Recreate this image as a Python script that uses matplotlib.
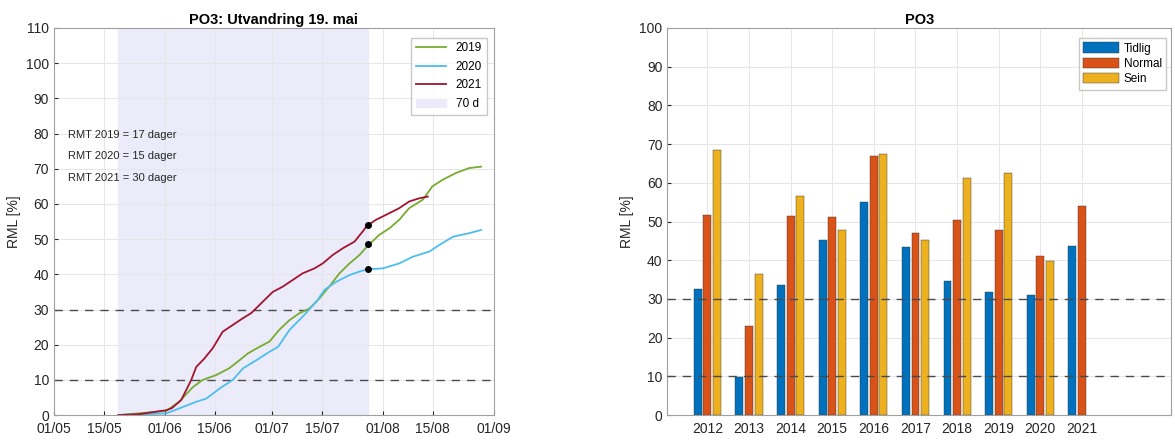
import matplotlib
matplotlib.use("Agg")
import matplotlib.pyplot as plt
import matplotlib.dates as mdates
import numpy as np

plt.rcParams.update({
    'font.family': ['Liberation Sans', 'DejaVu Sans'],
    'font.size': 10,
    'axes.edgecolor': '#a0a0a0',
    'axes.linewidth': 0.8,
    'xtick.color': '#262626',
    'ytick.color': '#262626',
    'xtick.direction': 'in',
    'ytick.direction': 'in',
})

# --- left panel data (days after 1 May) ---
start = np.datetime64('2021-05-01')
d2019 = [18, 31.4, 35, 38.9, 41.6, 45.4, 49, 51.9, 54.2, 57.5, 60.3, 63, 65.9, 68.6, 71.5,
         74.3, 77, 79.9, 82.7, 85.5, 87.6, 91, 93.9, 96.6, 99.4, 103.2, 105.9, 108.8, 112.5,
         116.2, 119.5]
v2019 = [0, 1.2, 3.8, 8, 10, 11.4, 13.3, 15.6, 17.5, 19.4, 20.9, 24.2, 27, 28.9, 30.3,
         33.2, 36.5, 40.3, 43.1, 45.5, 47.9, 51.2, 53.1, 55.5, 58.8, 61.2, 65, 66.9, 68.8,
         70.2, 70.6]
d2020 = [18, 31.4, 35, 39.8, 42.6, 46.4, 50, 52.9, 56.6, 60.3, 62.7, 65.9, 69.6, 73.4,
         75.7, 79, 82.7, 85.5, 87.6, 92, 96.6, 100.4, 105.1, 107.9, 111.7, 116.2, 119.5]
v2020 = [0, 0.5, 1.9, 3.8, 4.7, 7.6, 10, 13.3, 15.6, 18, 19.4, 24.2, 28, 32.2,
         35.6, 37.9, 39.8, 40.8, 41.4, 41.7, 43.1, 45, 46.5, 48.4, 50.7, 51.7, 52.6]
d2021 = [18, 24, 31.4, 33, 35.6, 38.4, 39.8, 42, 44.4, 47.2, 50, 52.8, 55.2, 58.4, 61.2,
         64, 66.8, 69.6, 72.9, 75.2, 78, 80.8, 84.1, 86.4, 87.6, 90.1, 92.9, 96.6, 99.4,
         102.2, 104.6]
v2021 = [0, 0.3, 1.4, 2, 4.3, 10, 13.7, 16, 19, 23.7, 25.6, 27.5, 29, 32.2, 35,
         36.5, 38.4, 40.3, 41.7, 43.1, 45.5, 47.4, 49.3, 52.2, 53.8, 55.5, 56.9, 58.8, 60.7,
         61.6, 62.1]
window_start, window_days = 18, 70
dot_values = [48.5, 41.5, 54]
rmt_text = ['RMT 2019 = 17 dager', 'RMT 2020 = 15 dager', 'RMT 2021 = 30 dager']

# --- right panel data ---
years = [2012, 2013, 2014, 2015, 2016, 2017, 2018, 2019, 2020, 2021]
tidlig = [32.5, 9.9, 33.6, 45.3, 55, 43.5, 34.7, 31.8, 31, 43.8]
normal = [51.7, 23, 51.5, 51.3, 67, 47, 50.4, 47.8, 41.2, 53.9]
sein = [68.4, 36.5, 56.7, 47.8, 67.5, 45.3, 61.2, 62.5, 39.9, np.nan]


def to_dates(days):
    return start + (np.array(days) * 24 * 3600).astype('timedelta64[s]')


fig = plt.figure(figsize=(11.75, 4.44), dpi=100)
ax1 = fig.add_axes([0.046, 0.065, 0.374, 0.872])
ax2 = fig.add_axes([0.568, 0.065, 0.429, 0.872])

dash = (0, (6, 5))

# left panel
ws = start + np.timedelta64(window_start, 'D')
we = ws + np.timedelta64(window_days, 'D')
ax1.axvspan(ws, we, color='#ebebfa', zorder=0, label='70 d')
ax1.axhline(10, color='#4a4a4a', ls=dash, lw=1, zorder=1)
ax1.axhline(30, color='#4a4a4a', ls=dash, lw=1, zorder=1)
l1, = ax1.plot(to_dates(d2019), v2019, color='#77ac30', lw=1.3, label='2019')
l2, = ax1.plot(to_dates(d2020), v2020, color='#4dbeee', lw=1.3, label='2020')
l3, = ax1.plot(to_dates(d2021), v2021, color='#a2142f', lw=1.3, label='2021')
ax1.plot([we] * 3, dot_values, 'o', color='black', ms=4, zorder=5)
for i, t in enumerate(rmt_text):
    ax1.text(start + np.timedelta64(4, 'D'), 79.5 - 6 * i, t, fontsize=8, va='center',
             color='#262626')

ax1.set_xlim(np.datetime64('2021-05-01'), np.datetime64('2021-09-01'))
ax1.set_ylim(0, 110)
ax1.set_yticks(np.arange(0, 111, 10))
ax1.xaxis.set_major_locator(mdates.DayLocator(bymonthday=[1, 15]))
ax1.xaxis.set_major_formatter(mdates.DateFormatter('%d/%m'))
ax1.grid(True, color='#e6e6e6', lw=0.7)
ax1.set_axisbelow(True)
ax1.set_ylabel('RML [%]', color='#262626')
ax1.set_title('PO3: Utvandring 19. mai', fontweight='bold', fontsize=10.5, pad=3)
ax1.legend(handles=[l1, l2, l3, ax1.patches[0]], loc='upper right',
           bbox_to_anchor=(0.985, 0.975), borderaxespad=0, fontsize=8.5,
           frameon=True, fancybox=False, edgecolor='#bbbbbb', handlelength=2.6,
           labelspacing=0.55)
ax1.tick_params(length=3)
ax1.tick_params(axis='x', pad=5)

# right panel
x = np.array(years)
off, w = 0.23, 0.19
ax2.axhline(10, color='#4a4a4a', ls=dash, lw=1, zorder=3)
ax2.axhline(30, color='#4a4a4a', ls=dash, lw=1, zorder=3)
ax2.bar(x - off, tidlig, w, color='#0072bd', edgecolor='#333333', lw=0.3, label='Tidlig', zorder=2)
ax2.bar(x, normal, w, color='#d95319', edgecolor='#333333', lw=0.3, label='Normal', zorder=2)
ax2.bar(x + off, sein, w, color='#edb120', edgecolor='#333333', lw=0.3, label='Sein', zorder=2)
ax2.set_xlim(2011.04, 2023.15)
ax2.set_ylim(0, 100)
ax2.set_xticks(years)
ax2.set_xticklabels([str(y) for y in years])
ax2.set_yticks(np.arange(0, 101, 10))
ax2.grid(True, color='#e6e6e6', lw=0.7)
ax2.set_axisbelow(True)
ax2.set_ylabel('RML [%]', color='#262626')
ax2.set_title('PO3', fontweight='bold', fontsize=10.5, pad=3)
ax2.legend(loc='upper right', bbox_to_anchor=(0.99, 0.975), borderaxespad=0, fontsize=8.5,
           frameon=True, fancybox=False, edgecolor='#bbbbbb', handlelength=3.0,
           handleheight=1.0, labelspacing=0.25, handletextpad=0.4, borderpad=0.4)
ax2.tick_params(length=3)
ax2.tick_params(axis='x', pad=5)

fig.savefig('out.png', dpi=100)
